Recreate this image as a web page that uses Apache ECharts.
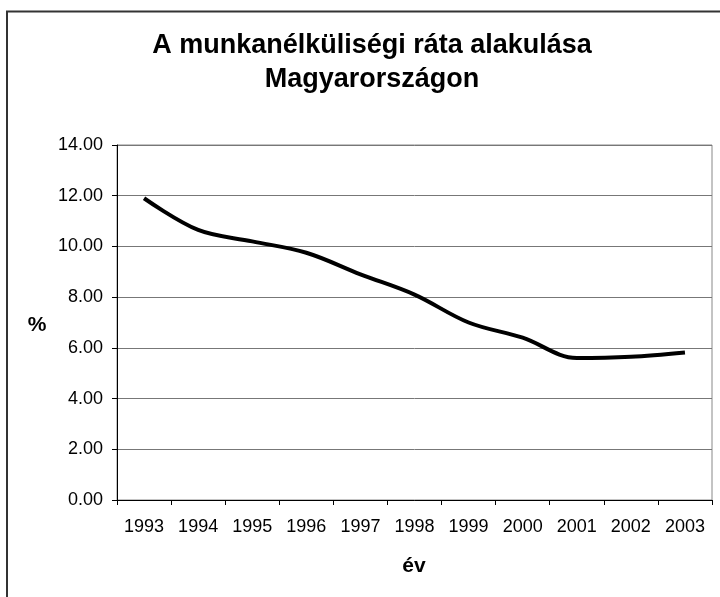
<!DOCTYPE html>
<html>
<head>
<meta charset="utf-8">
<script src="https://cdn.jsdelivr.net/npm/echarts@6/dist/echarts.min.js"></script>
<style>
  html, body { margin: 0; padding: 0; background: #fff; }
  #chart { width: 720px; height: 597px; }
</style>
</head>
<body>
<div id="chart"></div>
<script>
// ------------------------------------------------------- //
// Data
// ------------------------------------------------------ //
var years = ['1993', '1994', '1995', '1996', '1997', '1998', '1999', '2000', '2001', '2002', '2003'];
var rate = [11.9, 10.65, 10.2, 9.75, 8.9, 8.1, 7.0, 6.4, 5.6, 5.65, 5.82];
var yTicks = [0, 2, 4, 6, 8, 10, 12, 14];

var FONT = '"Liberation Sans", Arial, sans-serif';

var chart = echarts.init(document.getElementById('chart'));
var option = {
    animation: false,
    backgroundColor: '#fff',
    title: {
        text: 'A munkanélküliségi ráta alakulása\nMagyarországon',
        left: 367,
        top: 24,
        textAlign: 'center',
        textStyle: {
            fontFamily: FONT,
            fontSize: 27,
            fontWeight: 'bold',
            color: '#000',
            lineHeight: 34
        }
    },
    graphic: [
        // outer chart frame (only left + top visible in the picture)
        {
            type: 'rect',
            shape: {x: 7, y: 11.5, width: 900, height: 800},
            style: {fill: null, stroke: '#333', lineWidth: 2},
            silent: true
        },
        {
            type: 'text',
            style: {x: 37, y: 325, text: '%', font: 'bold 21px ' + FONT, fill: '#000',
                    align: 'center', verticalAlign: 'middle'}
        },
        {
            type: 'text',
            style: {x: 414, y: 566, text: 'év', font: 'bold 21px ' + FONT, fill: '#000',
                    align: 'center', verticalAlign: 'middle'}
        }
    ],
    grid: {
        left: 117,
        right: 8,
        top: 145,
        bottom: 97,
        show: true,
        borderColor: '#888',
        borderWidth: 1
    },
    xAxis: {
        type: 'category',
        data: years,
        boundaryGap: true,
        axisLine: {lineStyle: {color: '#000', width: 1}},
        axisTick: {show: true, length: 5, lineStyle: {color: '#000'}},
        axisLabel: {
            margin: 18,
            fontFamily: FONT,
            fontSize: 18,
            color: '#000',
            interval: 0
        },
        splitLine: {show: false}
    },
    yAxis: {
        type: 'value',
        min: yTicks[0],
        max: yTicks[yTicks.length - 1],
        interval: 2,
        axisLine: {show: true, lineStyle: {color: '#000', width: 1}},
        axisTick: {show: true, length: 5, lineStyle: {color: '#000'}},
        axisLabel: {
            margin: 14,
            fontFamily: FONT,
            fontSize: 18,
            color: '#000',
            formatter: function (v) { return v.toFixed(2); }
        },
        splitLine: {show: true, lineStyle: {color: '#777', width: 1}}
    },
    series: [{
        type: 'line',
        data: rate,
        smooth: 0.35,
        showSymbol: false,
        lineStyle: {color: '#000', width: 4},
        itemStyle: {color: '#000'}
    }]
};
chart.setOption(option);
</script>
</body>
</html>
